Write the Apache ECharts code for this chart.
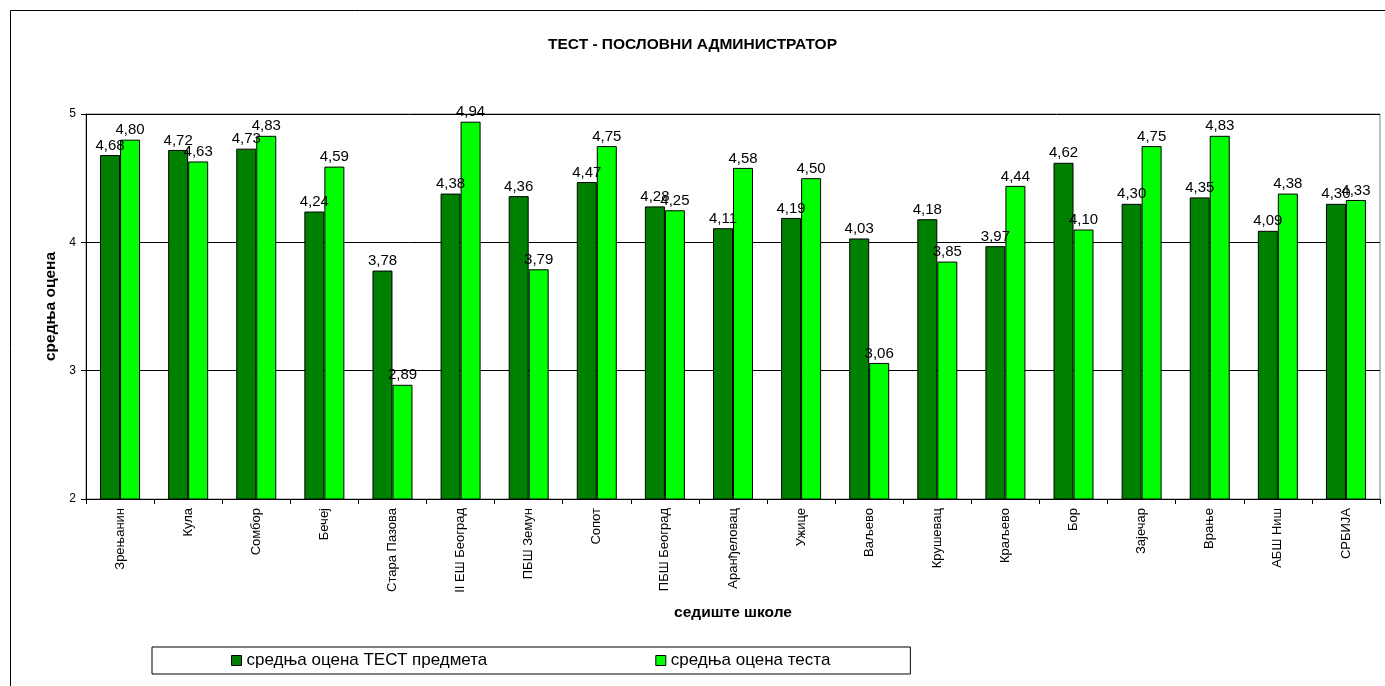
<!DOCTYPE html>
<html>
<head>
<meta charset="utf-8">
<script src="https://cdn.jsdelivr.net/npm/echarts@6/dist/echarts.min.js"></script>
<style>html,body{margin:0;padding:0;background:#fff}#c{width:1385px;height:686px}</style>
</head>
<body>
<div id="c"></div>
<script>
const categories = ['Зрењанин','Кула','Сомбор','Бечеј','Стара Пазова','II ЕШ Београд','ПБШ Земун','Сопот','ПБШ Београд','Аранђеловац','Ужице','Ваљево','Крушевац','Краљево','Бор','Зајечар','Врање','АБШ Ниш','СРБИЈА'];
const subjectAvg = [4.68,4.72,4.73,4.24,3.78,4.38,4.36,4.47,4.28,4.11,4.19,4.03,4.18,3.97,4.62,4.30,4.35,4.09,4.30];
const testAvg = [4.80,4.63,4.83,4.59,2.89,4.94,3.79,4.75,4.25,4.58,4.50,3.06,3.85,4.44,4.10,4.75,4.83,4.38,4.33];
const seriesNames = ['средња оцена ТЕСТ предмета','средња оцена теста'];
const yTicks = [2,3,4,5];

const F = 'Liberation Sans, Arial, sans-serif';
const chart = echarts.init(document.getElementById('c'), null, {renderer:'canvas'});
const lbl = {show:true, position:'top', distance:2, color:'#000', fontFamily:F, fontSize:15,
  formatter: p => p.value.toFixed(2).replace('.', ',')};
chart.setOption({
  animation:false,
  backgroundColor:'#fff',
  title:{text:'ТЕСТ - ПОСЛОВНИ АДМИНИСТРАТОР', left:'center', top:32,
    textStyle:{fontFamily:F, fontSize:15.5, fontWeight:'bold', color:'#000'}},
  graphic:[{type:'rect', shape:{x:10.5,y:10.5,width:1400,height:700}, style:{fill:'none', stroke:'#000', lineWidth:1}, silent:true}],
  legend:{top:647, left:152, data:seriesNames, icon:'rect', itemWidth:10, itemHeight:10, itemGap:168,
    padding:[5,80,5,79], borderColor:'#000', borderWidth:1,
    textStyle:{fontFamily:F, fontSize:17, color:'#000'},
    itemStyle:{borderColor:'#000', borderWidth:1}},
  grid:{left:86, right:5, top:114, bottom:187, show:true, borderColor:'#808080', borderWidth:1, containLabel:false},
  xAxis:{type:'category', data:categories, name:'седиште школе', nameLocation:'middle', nameGap:106,
    nameTextStyle:{fontFamily:F, fontSize:15.5, fontWeight:'bold', color:'#000'},
    axisLine:{lineStyle:{color:'#000'}}, axisTick:{show:true, length:5, alignWithLabel:false, lineStyle:{color:'#000'}},
    axisLabel:{rotate:90, interval:0, fontFamily:F, fontSize:13, color:'#000', margin:9}},
  yAxis:{type:'value', min:2, max:5, interval:1, name:'средња оцена', nameLocation:'middle', nameGap:27,
    nameTextStyle:{fontFamily:F, fontSize:15.5, fontWeight:'bold', color:'#000'},
    axisLine:{show:true, lineStyle:{color:'#000'}}, axisTick:{show:true, length:5, lineStyle:{color:'#000'}},
    axisLabel:{fontFamily:F, fontSize:12, color:'#000', margin:10, formatter:v=> yTicks.includes(v)? String(v):''},
    splitLine:{show:true, lineStyle:{color:'#000', width:1}}},
  series:[
    {name:seriesNames[0], type:'bar', data:subjectAvg, barWidth:20, barGap:'0%',
      itemStyle:{color:'#008000', borderColor:'#000', borderWidth:1}, label:lbl},
    {name:seriesNames[1], type:'bar', data:testAvg, barWidth:20, barGap:'0%',
      itemStyle:{color:'#00FF00', borderColor:'#000', borderWidth:1}, label:lbl}
  ]
});
</script>
</body>
</html>
